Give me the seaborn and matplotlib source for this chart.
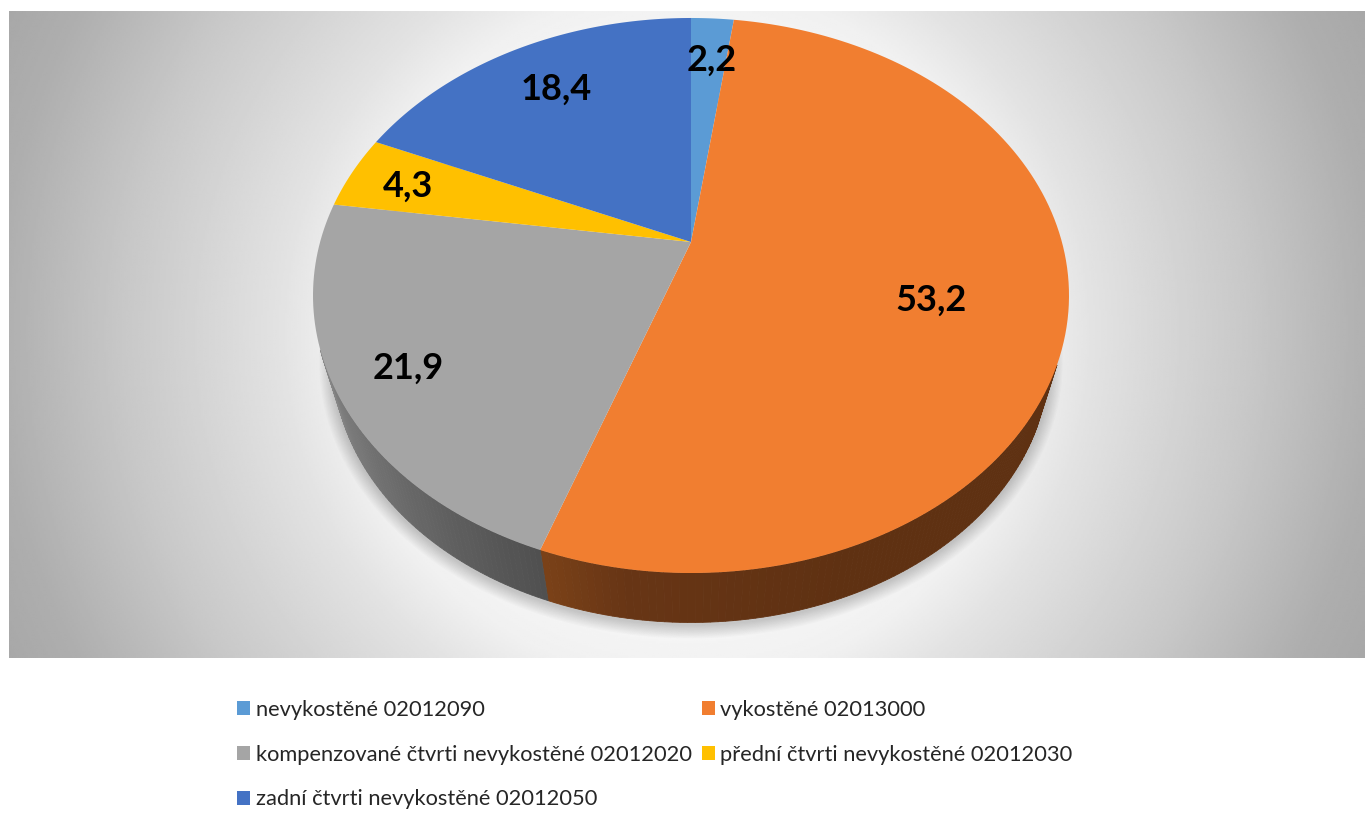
import numpy as np
import matplotlib
matplotlib.use("Agg")
import matplotlib.pyplot as plt
from matplotlib.path import Path
from matplotlib.transforms import Affine2D, Transform
import seaborn as sns

categories = ["nevykostěné 02012090", "vykostěné 02013000",
              "kompenzované čtvrti nevykostěné 02012020",
              "přední čtvrti nevykostěné 02012030",
              "zadní čtvrti nevykostěné 02012050"]
values = [2.2, 53.2, 21.9, 4.3, 18.4]
value_labels = ["2,2", "53,2", "21,9", "4,3", "18,4"]
colors = ["#5b9bd5", "#f17e30", "#a5a5a5", "#ffc000", "#4472c4"]

sns.set_theme(style="white")
plt.rcParams["font.family"] = ["Lato", "DejaVu Sans"]
palette = sns.color_palette(colors)

W, H = 1365, 825
fig = plt.figure(figsize=(W / 100, H / 100), dpi=100, facecolor="white")
ax = fig.add_axes([0, 0, 1, 1])

# perspective geometry of the tilted disc (unit pie -> figure pixels)
APEX = (691.0, 242.0)
A, B, K = 370.9, 267.2, 0.1928
SCALE_LOW, DROP = 0.947, 67.0


def project(x, y, scale=1.0, drop=0.0):
    d = 1 + K * np.asarray(y)
    return APEX[0] + scale * A * np.asarray(x) / d, APEX[1] - scale * B * np.asarray(y) / d + drop


class Perspective(Transform):
    input_dims = output_dims = 2
    is_affine = False

    def transform_non_affine(self, v):
        v = np.asarray(v)
        px, py = project(v[:, 0], v[:, 1])
        return np.column_stack([px, py])

    def transform_path_non_affine(self, path):
        # flatten the wedge curves first so the outline stays a true projection
        up = Affine2D().scale(2000)
        polys = path.to_polygons(transform=up, closed_only=True)
        v = np.vstack(polys) / 2000
        return Path(self.transform_non_affine(v), closed=True)


wedges, _ = ax.pie(values, colors=palette, startangle=90, counterclock=False,
                   radius=1, wedgeprops=dict(linewidth=0))
ax.set_aspect("auto")
ax.set_axis_off()
persp = Perspective()
for w in wedges:
    w.set_transform(persp + ax.transData)
    w.set_zorder(5)

# background: circular grey gradient
gx, gy = np.meshgrid(np.linspace(9, W, 680), np.linspace(11, 658, 325))
dist = np.hypot(gx - 687, gy - 334)
grey = np.interp(dist, [0, 300, 350, 410, 504, 564, 691, 760],
                 [250, 245, 240, 226, 210, 200, 174, 167]) / 255
ax.imshow(grey, extent=(9, W, 658, 11), cmap="gray", vmin=0, vmax=1,
          aspect="auto", zorder=0, interpolation="bilinear")
ax.set_xlim(0, W)
ax.set_ylim(H, 0)

# soft shadow under the lower rim
t = np.linspace(0, 2 * np.pi, 500)
sx, sy = project(np.cos(t), np.sin(t), SCALE_LOW, DROP)
for lw in np.linspace(20, 2, 12):
    ax.plot(sx, sy + 2, color="black", lw=lw, alpha=0.016, zorder=1,
            solid_capstyle="round")


def rim(t0, t1, c0, c1, n=60):
    """Side wall between clock angles t0 and t1 (degrees), shaded c0 -> c1."""
    edges = np.radians(np.linspace(t0, t1, n + 1))
    c0, c1 = np.array(matplotlib.colors.to_rgb(c0)), np.array(matplotlib.colors.to_rgb(c1))
    for i in range(n):
        a = edges[i:i + 2]
        ux, uy = project(np.sin(a), np.cos(a))
        lx, ly = project(np.sin(a), np.cos(a), SCALE_LOW, DROP)
        col = c0 + (c1 - c0) * i / max(n - 1, 1)
        ax.fill(np.r_[ux, lx[::-1]], np.r_[uy, ly[::-1]], color=col, lw=0.6, zorder=3)


# clock angle of the wedge border, taken from the pie itself
border = (90 - wedges[1].theta1) % 360
rim(border, border - 12, "#7a4118", "#673515", n=12)
rim(border - 12, border - 40, "#673515", "#5f3112", n=28)
rim(border - 40, 115, "#5f3112", "#5f3112")
rim(border, 248, "#505050", "#858585")

# value labels
label_xy = [(712, 60), (931, 300), (408, 368), (408, 186), (556, 89)]
for (lx, ly), s in zip(label_xy, value_labels):
    ax.text(lx, ly, s, ha="center", va="center", fontsize=26, fontweight="bold",
            color="black", zorder=6)

# legend, filled column-wise
order = [0, 2, 4, 1, 3]
leg = ax.legend([wedges[i] for i in order], [categories[i] for i in order],
                ncol=2, loc="upper left", bbox_to_anchor=(237 / W, 1 - 700 / H),
                bbox_transform=fig.transFigure, frameon=False, fontsize=15.75,
                handlelength=0.6, handleheight=0.6, handletextpad=0.25,
                labelspacing=1.13, columnspacing=0.47, borderpad=0, borderaxespad=0)
leg.set_zorder(6)

fig.savefig("out.png", dpi=100)
